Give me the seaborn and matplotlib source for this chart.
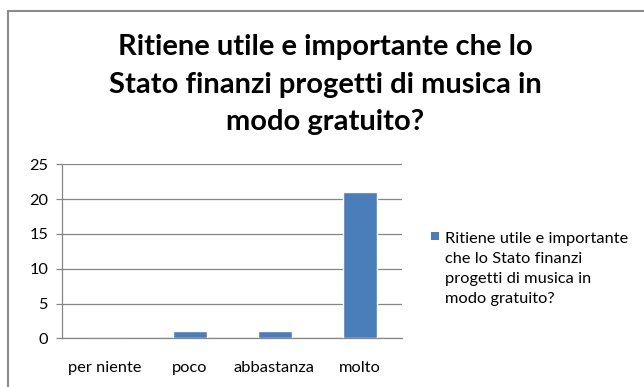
import matplotlib
matplotlib.use("Agg")
import matplotlib.pyplot as plt
from matplotlib.lines import Line2D
from matplotlib.patches import Rectangle
import seaborn as sns
import pandas as pd

categories = ["per niente", "poco", "abbastanza", "molto"]
values = [0, 1, 1, 21]
title_lines = [
    "Ritiene utile e importante che lo",
    "Stato finanzi progetti di musica in",
    "modo gratuito?",
]
legend_lines = [
    "Ritiene utile e importante",
    "che lo Stato finanzi",
    "progetti di musica in",
    "modo gratuito?",
]
y_ticks = [0, 5, 10, 15, 20, 25]

BAR = "#4A7EBB"
GRID = "#868686"
W, H = 644, 387

sns.set_style("white")
plt.rcParams["font.family"] = ["Lato", "DejaVu Sans"]

df = pd.DataFrame({"categoria": categories, "valore": values})

fig = plt.figure(figsize=(W / 100, H / 100), dpi=100)
fig.patch.set_facecolor("white")
ax = fig.add_axes([62 / W, 1 - 338.3 / H, 340 / W, 174 / H])

sns.barplot(data=df, x="categoria", y="valore", color=BAR, width=0.4,
            saturation=1, ax=ax, zorder=3)

ax.set_ylim(0, 25)
ax.set_xlim(-0.5, len(categories) - 0.5)
ax.set_yticks(y_ticks)
ax.set_yticklabels([str(t) for t in y_ticks])
ax.set_xlabel("")
ax.set_ylabel("")

# horizontal gridlines
ax.yaxis.grid(True, color=GRID, linewidth=0.9, zorder=0)
ax.xaxis.grid(False)
ax.set_axisbelow(True)

for side in ["top", "right"]:
    ax.spines[side].set_visible(False)
for side in ["left", "bottom"]:
    ax.spines[side].set_color(GRID)
    ax.spines[side].set_linewidth(0.9)

# category boundary ticks on x, labels centred on categories
ax.set_xticks([i - 0.5 for i in range(len(categories) + 1)], minor=True)
ax.tick_params(axis="x", which="minor", length=4, width=0.9, color=GRID, direction="out")
ax.tick_params(axis="x", which="major", length=0, pad=16, labelsize=11.8, labelcolor="black")
ax.tick_params(axis="y", which="major", left=True, length=4, width=0.9, color=GRID,
               pad=6, labelsize=11.8, labelcolor="black")

# chart title, one line at a time
for line, base in zip(title_lines, [55, 93, 130]):
    fig.text(325 / W, 1 - base / H, line, ha="center", va="baseline",
             fontsize=21, fontweight="bold", color="black")

# legend key and wrapped series name
fig.add_artist(Rectangle((431 / W, 1 - 240 / H), 8 / W, 8 / H,
                         transform=fig.transFigure, facecolor=BAR, edgecolor="none"))
for i, line in enumerate(legend_lines):
    fig.text(445 / W, 1 - (242.7 + 20 * i) / H, line, ha="left", va="baseline",
             fontsize=11.8, color="black")

# chart border (top and left edges)
fig.add_artist(Line2D([8 / W, 1.02], [1 - 10.5 / H, 1 - 10.5 / H],
                      transform=fig.transFigure, color="#8c8c8c", linewidth=1.5))
fig.add_artist(Line2D([8 / W, 8 / W], [-0.02, 1 - 10.5 / H],
                      transform=fig.transFigure, color="#8c8c8c", linewidth=1.5))

fig.savefig("out.png", dpi=100)
